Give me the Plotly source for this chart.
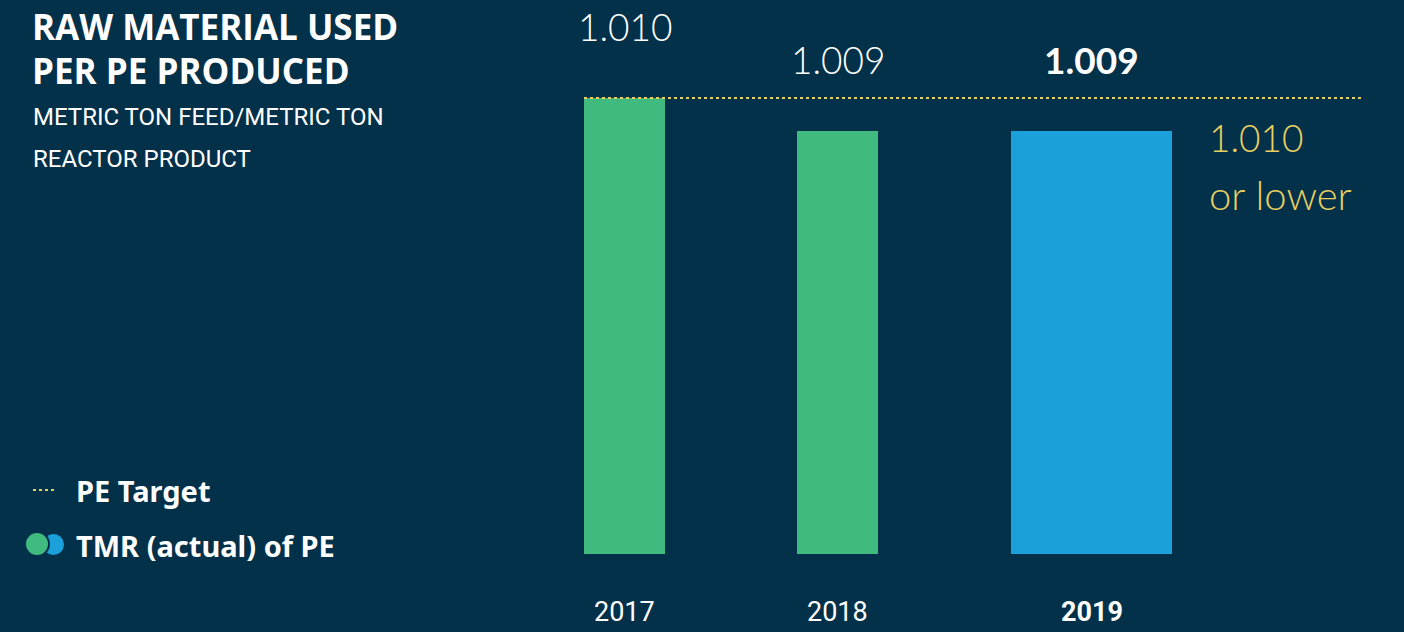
import plotly.graph_objects as go

years = ["2017", "2018", "2019"]
tmr_values = [1.010, 1.009, 1.009]
value_labels = ["1.010", "1.009", "<b>1.009</b>"]
year_labels = ["2017", "2018", "<b>2019</b>"]
bar_colors = ["#40BA7F", "#40BA7F", "#1CA0D9"]
target_value = 1.010

BG = "#04314A"
YELLOW = "#E8CF62"
W, H = 1404, 632

# layout geometry (pixels)
px0 = 624.5        # centre of first category
unit = 213.0       # pixels per category
plot_left = 560.0
plot_bottom = 554.0

def xu(px):
    return (px - px0) / unit

bar_widths = [81 / unit, 81 / unit, 161 / unit]
bar_offsets = [xu(584), xu(797) - 1, xu(1011) - 2]
label_shift = [0, 0, 41]

# y scale: 33 px per 0.001
ypx = 33 / 0.001
y_top = target_value + 98 / ypx
y_bot = target_value - (plot_bottom - 98) / ypx

fig = go.Figure()
fig.add_trace(go.Bar(
    x=years, y=tmr_values, width=bar_widths, offset=bar_offsets,
    marker=dict(color=bar_colors, line=dict(width=0)),
    hoverinfo="skip", showlegend=False,
))

ann = []
num_font = dict(family="Lato", size=37, color="white", weight=300)
for i, (yr, v) in enumerate(zip(years, tmr_values)):
    f = dict(num_font)
    if i == 2:
        f["weight"] = 700
    ann.append(dict(x=i, y=v, xref="x", yref="y", text=value_labels[i],
                    showarrow=False, yshift=72, xshift=label_shift[i],
                    font=f, xanchor="center", yanchor="middle"))
    ann.append(dict(x=i, y=(H - 612) / H, xref="x", yref="paper", text=year_labels[i],
                    showarrow=False, xshift=label_shift[i],
                    font=dict(family="Roboto", size=27, color="white"),
                    xanchor="center", yanchor="middle"))

# target label
tgt_font = dict(family="Lato", size=37, color=YELLOW, weight=300)
ann.append(dict(x=1207 / W, y=1 - 137 / H, xref="paper", yref="paper", text="1.010",
                showarrow=False, xanchor="left", yanchor="middle", font=tgt_font))
ann.append(dict(x=1207 / W, y=1 - 195 / H, xref="paper", yref="paper", text="or lower",
                showarrow=False, xanchor="left", yanchor="middle", font=dict(tgt_font, size=40)))

# title
title_font = dict(family="Open Sans", size=35, color="white", weight=700)
ann.append(dict(x=30 / W, y=1 - 26 / H, xref="paper", yref="paper", text="RAW MATERIAL USED",
                showarrow=False, xanchor="left", yanchor="middle", font=title_font))
ann.append(dict(x=30 / W, y=1 - 70 / H, xref="paper", yref="paper", text="PER PE PRODUCED",
                showarrow=False, xanchor="left", yanchor="middle", font=title_font))
sub_font = dict(family="Roboto", size=24, color="white")
ann.append(dict(x=31 / W, y=1 - 117 / H, xref="paper", yref="paper", text="METRIC TON FEED/METRIC TON",
                showarrow=False, xanchor="left", yanchor="middle", font=sub_font))
ann.append(dict(x=31 / W, y=1 - 159 / H, xref="paper", yref="paper", text="REACTOR PRODUCT",
                showarrow=False, xanchor="left", yanchor="middle", font=sub_font))

# legend
leg_font = dict(family="Noto Sans", size=29, color="white", weight=700)
ann.append(dict(x=74 / W, y=1 - 490 / H, xref="paper", yref="paper", text="PE Target",
                showarrow=False, xanchor="left", yanchor="middle", font=leg_font))
ann.append(dict(x=74 / W, y=1 - 545 / H, xref="paper", yref="paper", text="TMR (actual) of PE",
                showarrow=False, xanchor="left", yanchor="middle", font=leg_font))

shapes = [
    dict(type="line", xref="x", yref="y", x0=xu(584), x1=xu(1362), y0=target_value, y1=target_value,
         line=dict(color=YELLOW, width=2, dash="dot")),
    dict(type="line", xref="paper", yref="paper", x0=33 / W, x1=56 / W, y0=1 - 490 / H, y1=1 - 490 / H,
         line=dict(color=YELLOW, width=2, dash="dot")),
    dict(type="circle", xref="paper", yref="paper", x0=43 / W, x1=64 / W, y0=1 - 555 / H, y1=1 - 534 / H,
         fillcolor="#1CA0D9", line=dict(width=0)),
    dict(type="circle", xref="paper", yref="paper", x0=25 / W, x1=49 / W, y0=1 - 556 / H, y1=1 - 532 / H,
         fillcolor="#40BA7F", line=dict(color=BG, width=2)),
]

fig.update_layout(
    width=W, height=H,
    margin=dict(l=0, r=0, t=0, b=0),
    paper_bgcolor=BG, plot_bgcolor=BG,
    xaxis=dict(domain=[plot_left / W, 1], range=[xu(plot_left), xu(W)],
               showgrid=False, zeroline=False, showticklabels=False, showline=False,
               type="category", fixedrange=True),
    yaxis=dict(domain=[(H - plot_bottom) / H, 1], range=[y_bot, y_top],
               showgrid=False, zeroline=False, showticklabels=False, showline=False, fixedrange=True),
    annotations=ann, shapes=shapes, bargap=0,
)

fig.write_html("out.html", config={"displayModeBar": False})
